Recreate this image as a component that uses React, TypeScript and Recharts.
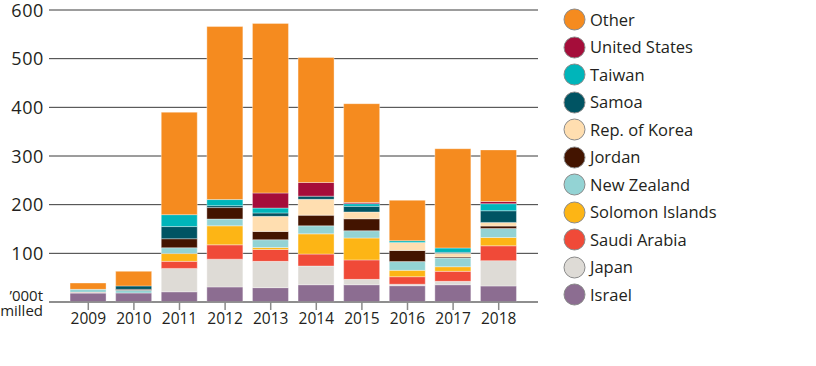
import React from 'react';
import { BarChart, Bar, XAxis, YAxis, CartesianGrid } from 'recharts';

const years = ['2009', '2010', '2011', '2012', '2013', '2014', '2015', '2016', '2017', '2018'];
const israel = [18.5, 18.5, 21, 31, 29.5, 35.5, 35.5, 33.5, 35.5, 33];
const japan = [0.5, 0, 48, 57, 54, 38.5, 11, 3, 7, 52];
const saudiArabia = [1, 0, 14.5, 29.5, 24.5, 24.5, 40, 15.5, 20.5, 30.5];
const solomonIslands = [0, 0, 16, 39, 4, 41.5, 45, 13, 9.5, 17];
const newZealand = [6, 5.5, 12, 14, 16, 16.5, 15, 18, 18, 18.5];
const jordan = [0, 2, 18.5, 23.5, 17, 22, 24.5, 23, 2, 5];
const korea = [0, 0, 0, 0, 31, 32.5, 14, 16.5, 7.5, 7.5];
const samoa = [0, 7, 25, 4, 7, 6.5, 11.5, 0, 2, 24];
const taiwan = [0, 0, 24.5, 12.5, 10, 0, 5.5, 3.5, 9, 14.5];
const unitedStates = [0, 0, 0, 0, 31, 28, 2.5, 0, 0, 4.5];
const other = [13, 30, 210.5, 355.5, 348.5, 257, 203, 83, 204, 106];
const yTicks = [0, 100, 200, 300, 400, 500, 600];

const series = [
  { key: 'Israel', values: israel, color: '#8c6d91' },
  { key: 'Japan', values: japan, color: '#dedbd6' },
  { key: 'Saudi Arabia', values: saudiArabia, color: '#f04a38' },
  { key: 'Solomon Islands', values: solomonIslands, color: '#fdb515' },
  { key: 'New Zealand', values: newZealand, color: '#93d3d4' },
  { key: 'Jordan', values: jordan, color: '#431400' },
  { key: 'Rep. of Korea', values: korea, color: '#ffdeb0' },
  { key: 'Samoa', values: samoa, color: '#005463' },
  { key: 'Taiwan', values: taiwan, color: '#00b5ba' },
  { key: 'United States', values: unitedStates, color: '#a50d3a' },
  { key: 'Other', values: other, color: '#f58b1f' },
];

const data = years.map((y, i) => {
  const row: Record<string, string | number> = { year: y };
  series.forEach((s) => {
    row[s.key] = s.values[i];
  });
  return row;
});

const FONT = '"Open Sans", sans-serif';

const YTick = (props: any) => {
  const { x, y, payload } = props;
  if (payload.value === 0) {
    return (
      <g>
        <text x={x - 1} y={y - 1} textAnchor="end" fontSize={15} fill="#231f20" fontFamily={FONT}>
          ’000t
        </text>
        <text x={x - 1} y={y + 14} textAnchor="end" fontSize={15} fill="#231f20" fontFamily={FONT}>
          milled
        </text>
      </g>
    );
  }
  return (
    <text x={x} y={y} dy={6.5} textAnchor="end" fontSize={18} letterSpacing={0.6} fill="#231f20" fontFamily={FONT}>
      {payload.value}
    </text>
  );
};

const LegendBox = () => {
  const items = [...series].reverse();
  return (
    <div style={{ position: 'absolute', left: 563, top: 6, fontFamily: FONT }}>
      {items.map((s) => (
        <div key={s.key} style={{ display: 'flex', alignItems: 'center', height: 27.5 }}>
          <svg width={23} height={23} style={{ display: 'block' }}>
            <circle cx={11.5} cy={11.5} r={10.5} fill={s.color} stroke="#8a8a8a" strokeWidth={1} />
          </svg>
          <span style={{ marginLeft: 4, fontSize: 16.5, color: '#231f20', lineHeight: '20px' }}>{s.key}</span>
        </div>
      ))}
    </div>
  );
};

export default function App() {
  return (
    <div style={{ position: 'absolute', left: 0, top: 0, width: 816, height: 366, background: '#fff' }}>
      <BarChart
        width={816}
        height={366}
        data={data}
        margin={{ top: 10, right: 278, left: 0, bottom: 34 }}
        barCategoryGap="10%"
      >
        <CartesianGrid vertical={false} stroke="#3a3a3a" strokeWidth={1} />
        <XAxis
          dataKey="year"
          height={30}
          padding={{ left: 16.5, right: 16.5 }}
          axisLine={{ stroke: '#8a8a8a', strokeWidth: 1.5 }}
          tickLine={{ stroke: '#8a8a8a', strokeWidth: 1.5 }}
          tickSize={8}
          tickMargin={3}
          tick={{ fontSize: 15.5, fill: '#231f20', fontFamily: FONT }}
          interval={0}
        />
        <YAxis
          width={49}
          domain={[0, 600]}
          ticks={yTicks}
          axisLine={false}
          tickLine={false}
          tickSize={0}
          tickMargin={5}
          tick={<YTick />}
          interval={0}
        />
        {series.map((s) => (
          <Bar
            key={s.key}
            dataKey={s.key}
            stackId="a"
            fill={s.color}
            stroke="#ffffff"
            strokeOpacity={0.35}
            strokeWidth={1}
            isAnimationActive={false}
          />
        ))}
      </BarChart>
      <LegendBox />
    </div>
  );
}
